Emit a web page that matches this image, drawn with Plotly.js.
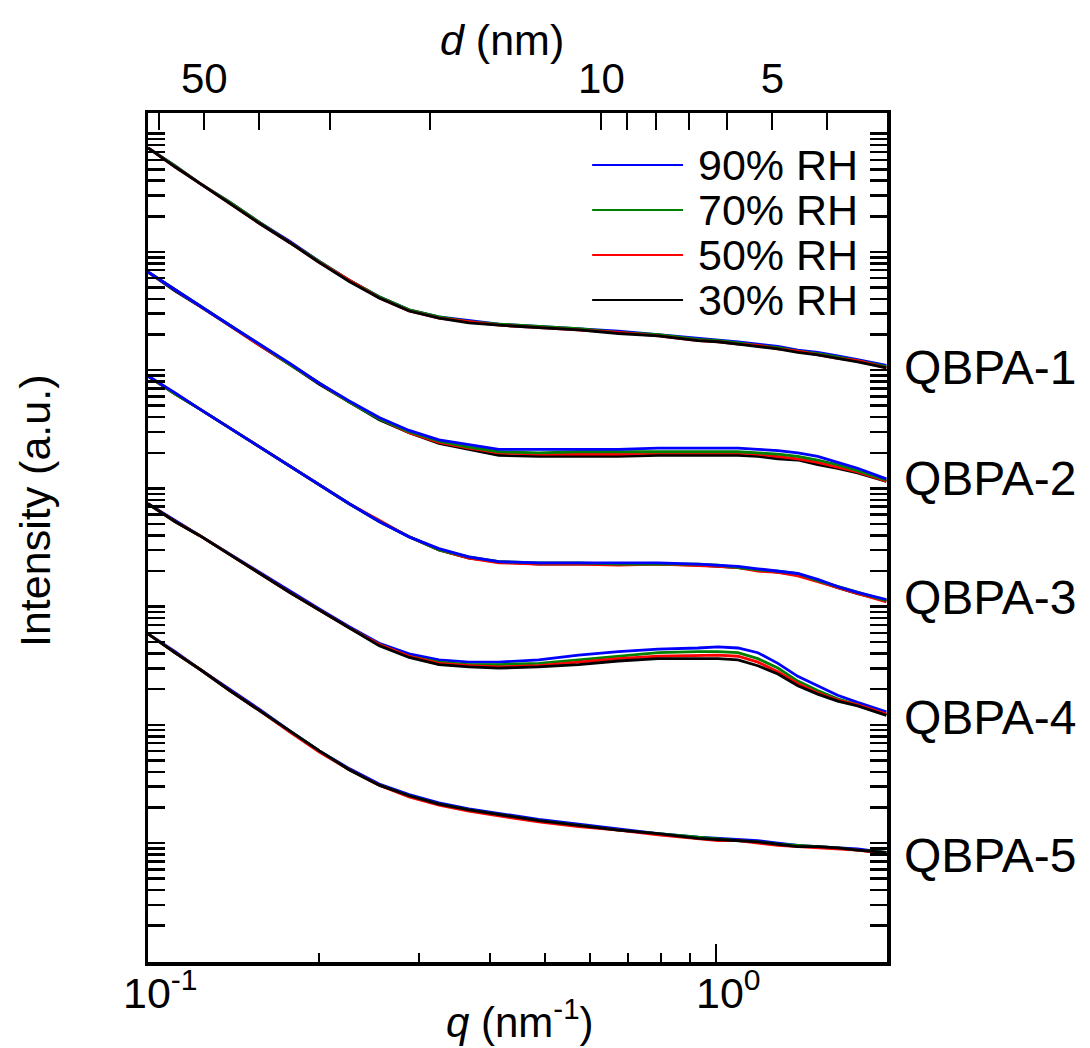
<!DOCTYPE html>
<html><head><meta charset="utf-8">
<script src="https://cdn.plot.ly/plotly-3.0.1.min.js"></script>
<style>html,body{margin:0;padding:0;background:#fff}#chart{width:1090px;height:1048px}</style>
</head><body><div id="chart"></div>
<script>
// scattering vector q (nm^-1)
const q = [0.100,0.1115,0.1234,0.1393,0.1572,0.1775,0.2003,0.2261,0.2553,0.2882,0.3253,0.3672,0.4146,0.4873,0.5728,0.6731,0.7910,0.9299,1.008,1.093,1.185,1.285,1.393,1.510,1.637,1.775,1.995];

// log10 of intensity (a.u., curves offset vertically)
const QBPA1_RH90 = [5.88,5.73,5.58,5.42,5.25,5.09,4.92,4.76,4.62,4.51,4.45,4.42,4.39,4.37,4.35,4.33,4.30,4.27,4.26,4.24,4.22,4.20,4.17,4.15,4.12,4.09,4.04];
const QBPA1_RH70 = [5.88,5.73,5.58,5.42,5.25,5.08,4.92,4.76,4.62,4.51,4.45,4.41,4.39,4.37,4.35,4.32,4.30,4.26,4.25,4.23,4.21,4.19,4.16,4.14,4.11,4.08,4.03];
const QBPA1_RH50 = [5.88,5.72,5.58,5.41,5.24,5.08,4.91,4.76,4.61,4.50,4.44,4.41,4.38,4.36,4.34,4.32,4.29,4.25,4.24,4.22,4.21,4.18,4.16,4.13,4.10,4.08,4.02];
const QBPA1_RH30 = [5.88,5.72,5.58,5.41,5.24,5.08,4.91,4.75,4.61,4.50,4.44,4.40,4.38,4.36,4.34,4.31,4.29,4.25,4.24,4.22,4.20,4.18,4.15,4.13,4.10,4.07,4.02];

const QBPA2_RH90 = [4.83,4.68,4.54,4.38,4.22,4.06,3.89,3.74,3.60,3.49,3.41,3.37,3.33,3.33,3.33,3.33,3.34,3.34,3.34,3.34,3.33,3.32,3.30,3.27,3.22,3.17,3.08];
const QBPA2_RH70 = [4.83,4.68,4.54,4.38,4.22,4.05,3.89,3.73,3.59,3.48,3.40,3.35,3.31,3.30,3.31,3.31,3.31,3.31,3.31,3.31,3.30,3.29,3.27,3.24,3.20,3.15,3.07];
const QBPA2_RH50 = [4.83,4.68,4.54,4.38,4.21,4.05,3.89,3.73,3.59,3.47,3.39,3.34,3.30,3.29,3.29,3.29,3.30,3.30,3.30,3.30,3.29,3.27,3.25,3.22,3.18,3.14,3.06];
const QBPA2_RH30 = [4.83,4.67,4.54,4.38,4.21,4.05,3.88,3.73,3.58,3.47,3.38,3.33,3.28,3.27,3.27,3.27,3.28,3.28,3.28,3.28,3.27,3.25,3.24,3.20,3.17,3.13,3.06];

const QBPA3_RH90 = [3.95,3.81,3.67,3.51,3.35,3.19,3.03,2.87,2.72,2.59,2.49,2.42,2.38,2.37,2.37,2.37,2.37,2.36,2.35,2.34,2.32,2.30,2.28,2.23,2.17,2.12,2.06];
const QBPA3_RH70 = [3.95,3.80,3.67,3.51,3.35,3.19,3.03,2.87,2.72,2.59,2.48,2.42,2.38,2.37,2.37,2.36,2.36,2.36,2.35,2.33,2.31,2.30,2.28,2.22,2.17,2.12,2.05];
const QBPA3_RH50 = [3.95,3.80,3.67,3.51,3.35,3.19,3.03,2.87,2.73,2.59,2.48,2.41,2.37,2.36,2.36,2.35,2.36,2.35,2.34,2.33,2.30,2.29,2.26,2.21,2.16,2.11,2.04];
const QBPA3_RH30 = [3.95,3.80,3.67,3.51,3.35,3.19,3.03,2.87,2.72,2.59,2.48,2.41,2.38,2.36,2.36,2.36,2.36,2.35,2.34,2.33,2.31,2.29,2.27,2.22,2.16,2.11,2.05];

const QBPA4_RH90 = [2.87,2.73,2.60,2.44,2.29,2.13,1.98,1.83,1.69,1.60,1.55,1.53,1.53,1.55,1.59,1.62,1.64,1.65,1.66,1.65,1.61,1.52,1.41,1.33,1.25,1.19,1.11];
const QBPA4_RH70 = [2.87,2.72,2.60,2.44,2.28,2.12,1.97,1.82,1.68,1.58,1.53,1.51,1.51,1.52,1.55,1.58,1.61,1.62,1.62,1.61,1.56,1.48,1.37,1.29,1.22,1.17,1.09];
const QBPA4_RH50 = [2.87,2.72,2.60,2.44,2.28,2.12,1.97,1.82,1.68,1.58,1.52,1.50,1.49,1.50,1.53,1.56,1.58,1.59,1.59,1.58,1.53,1.45,1.35,1.27,1.21,1.17,1.09];
const QBPA4_RH30 = [2.87,2.72,2.60,2.44,2.28,2.12,1.97,1.82,1.67,1.57,1.51,1.49,1.48,1.49,1.51,1.54,1.56,1.56,1.56,1.55,1.50,1.43,1.33,1.26,1.20,1.16,1.08];

const QBPA5_RH90 = [1.77,1.62,1.47,1.30,1.13,0.95,0.78,0.63,0.50,0.41,0.34,0.29,0.25,0.20,0.16,0.12,0.08,0.05,0.04,0.03,0.02,0.00,-0.02,-0.03,-0.04,-0.05,-0.08];
const QBPA5_RH70 = [1.77,1.61,1.47,1.29,1.12,0.95,0.78,0.62,0.49,0.40,0.33,0.28,0.24,0.19,0.15,0.11,0.08,0.05,0.03,0.02,0.01,-0.01,-0.02,-0.03,-0.04,-0.06,-0.08];
const QBPA5_RH50 = [1.77,1.61,1.47,1.29,1.12,0.94,0.77,0.62,0.49,0.39,0.32,0.27,0.23,0.18,0.14,0.11,0.07,0.04,0.02,0.02,0.00,-0.02,-0.03,-0.04,-0.05,-0.06,-0.09];
const QBPA5_RH30 = [1.77,1.61,1.47,1.29,1.12,0.95,0.78,0.62,0.49,0.40,0.33,0.28,0.24,0.19,0.15,0.11,0.08,0.04,0.03,0.02,0.01,-0.01,-0.03,-0.03,-0.04,-0.06,-0.08];

const rhLabels = ['90% RH','70% RH','50% RH','30% RH'];
const rhColors = ['#0000ff','#008000','#ff0000','#000000'];
const sampleNames = ['QBPA-1','QBPA-2','QBPA-3','QBPA-4','QBPA-5'];
const sampleData = [
  [QBPA1_RH90,QBPA1_RH70,QBPA1_RH50,QBPA1_RH30],
  [QBPA2_RH90,QBPA2_RH70,QBPA2_RH50,QBPA2_RH30],
  [QBPA3_RH90,QBPA3_RH70,QBPA3_RH50,QBPA3_RH30],
  [QBPA4_RH90,QBPA4_RH70,QBPA4_RH50,QBPA4_RH30],
  [QBPA5_RH90,QBPA5_RH70,QBPA5_RH50,QBPA5_RH30]
];
// drawing order per sample (indices into RH list), last drawn on top
const drawOrder = [[0,1,2,3],[3,2,1,0],[3,2,1,0],[0,1,2,3],[0,1,2,3]];

// bottom axis: q ticks
const qMajor = [0.1, 1];
const qMajorLabels = ['10<sup>-1</sup>', '10<sup>0</sup>'];
const qMinor = [0.2,0.3,0.4,0.5,0.6,0.7,0.8,0.9];
// top axis: d (nm)
const dMajor = [50,10,5];
const dMajorLabels = ['50','10','5'];
const dMinor = [60,40,30,20,9,8,7,6,4];

const FONT = 'Liberation Sans, Arial, Helvetica, sans-serif';
const traces = [];
sampleData.forEach((set, s) => {
  drawOrder[s].forEach(r => {
    traces.push({
      x: q, y: set[r].map(v => Math.pow(10, v)),
      type: 'scatter', mode: 'lines', name: sampleNames[s] + ' ' + rhLabels[r],
      line: {color: rhColors[r], width: 2.8}, showlegend: false, xaxis: 'x', yaxis: 'y'
    });
  });
});
// invisible trace carrying the top (d) axis
traces.push({x: [0.1, 2], y: [1, 1], xaxis: 'x2', yaxis: 'y', mode: 'lines', line: {width: 0}, hoverinfo: 'skip', showlegend: false});

const yMajor = [], yMinor = [];
for (let n = -1; n <= 6; n++) {
  yMajor.push(Math.pow(10, n));
  for (let k = 2; k <= 9; k++) { const v = k * Math.pow(10, n); if (Math.log10(v) < 6.17) yMinor.push(v); }
}

const shapes = [], annotations = [];
const legY = [0.9388, 0.8857, 0.8327, 0.7797];
rhLabels.forEach((lab, i) => {
  shapes.push({type: 'line', xref: 'paper', yref: 'paper', x0: 0.601, x1: 0.724, y0: legY[i], y1: legY[i], line: {color: rhColors[i], width: 2}});
  annotations.push({xref: 'paper', yref: 'paper', x: 0.741, y: legY[i], xanchor: 'left', yanchor: 'middle', text: lab, showarrow: false, font: {family: FONT, size: 43, color: '#000'}});
});
const labY = [0.7002, 0.5695, 0.4293, 0.2874, 0.1260];
sampleNames.forEach((n, i) => {
  annotations.push({xref: 'paper', yref: 'paper', x: 1.0203, y: labY[i], xanchor: 'left', yanchor: 'middle', text: n, showarrow: false, font: {family: FONT, size: 48, color: '#000'}});
});
// bottom tick labels (placed at the q tick values)
qMajor.forEach((v, i) => {
  annotations.push({xref: 'x', yref: 'paper', x: Math.log10(v), y: (962-990)/849, xanchor: 'center', yanchor: 'middle', xshift: 12, text: qMajorLabels[i], showarrow: false, font: {family: FONT, size: 43, color: '#000'}});
});
annotations.push({xref: 'paper', yref: 'paper', x: (520-148)/739, y: (962-1019)/849, xanchor: 'center', yanchor: 'middle', text: '<i>q</i> (nm<sup>-1</sup>)', showarrow: false, font: {family: FONT, size: 42, color: '#000'}});
annotations.push({xref: 'paper', yref: 'paper', x: (502-148)/739, y: (962-40)/849, xanchor: 'center', yanchor: 'middle', text: '<i>d</i> (nm)', showarrow: false, font: {family: FONT, size: 43, color: '#000'}});
annotations.push({xref: 'paper', yref: 'paper', x: (35-148)/739, y: (962-511)/849, xanchor: 'center', yanchor: 'middle', textangle: -90, text: 'Intensity (a.u.)', showarrow: false, font: {family: FONT, size: 43, color: '#000'}});

const layout = {
  width: 1090, height: 1048,
  margin: {l: 148, r: 203, t: 113, b: 86, pad: 0},
  paper_bgcolor: '#fff', plot_bgcolor: '#fff',
  font: {family: FONT, size: 42, color: '#000'},
  showlegend: false,
  xaxis: {
    type: 'log', range: [-1, Math.log10(2)], showgrid: false, zeroline: false,
    showline: true, linecolor: '#000', linewidth: 3.5, mirror: false,
    tickmode: 'array', tickvals: qMajor, showticklabels: false,
    ticks: 'inside', ticklen: 18, tickwidth: 2, tickcolor: '#000',
    minor: {tickmode: 'array', tickvals: qMinor, ticks: 'inside', ticklen: 9, tickwidth: 2, tickcolor: '#000', showgrid: false}
  },
  xaxis2: {
    type: 'log', range: [-1, Math.log10(2)], overlaying: 'x', side: 'top', anchor: 'y',
    showgrid: false, zeroline: false, showline: true, linecolor: '#000', linewidth: 3.5,
    tickmode: 'array', tickvals: dMajor.map(d => 2 * Math.PI / d), ticktext: dMajorLabels,
    ticks: 'inside', ticklen: 17, tickwidth: 2, tickcolor: '#000',
    tickfont: {family: FONT, size: 42, color: '#000'},
    minor: {tickmode: 'array', tickvals: dMinor.map(d => 2 * Math.PI / d), ticks: 'inside', ticklen: 17, tickwidth: 2, tickcolor: '#000', showgrid: false}
  },
  yaxis: {
    type: 'log', range: [-1.006, 6.175], showgrid: false, zeroline: false,
    showline: true, linecolor: '#000', linewidth: 3.5, mirror: 'allticks',
    tickmode: 'array', tickvals: yMajor, showticklabels: false,
    ticks: 'inside', ticklen: 17, tickwidth: 2.5, tickcolor: '#000',
    minor: {tickmode: 'array', tickvals: yMinor, ticks: 'inside', ticklen: 8, tickwidth: 2.5, tickcolor: '#000', showgrid: false}
  },
  shapes: shapes, annotations: annotations
};
Plotly.newPlot('chart', traces, layout, {staticPlot: true, displayModeBar: false});
</script></body></html>
